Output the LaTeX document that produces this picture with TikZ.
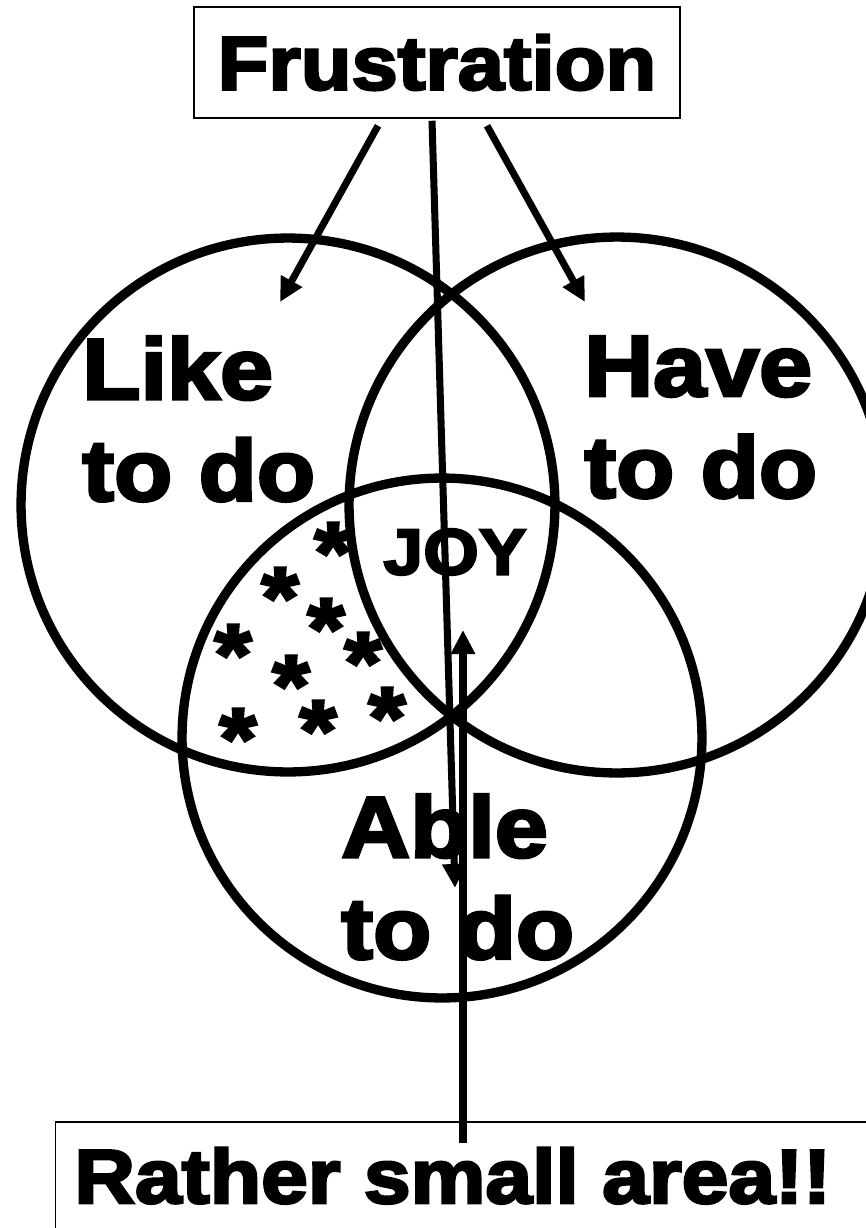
\documentclass[tikz,border=0pt]{standalone}
\usepackage{fontspec}
\usetikzlibrary{arrows.meta}
\newfontfamily\blackfont[FakeStretch=1.1,FakeBold=3.5]{Liberation Sans Bold}

\begin{document}
\begin{tikzpicture}[x=0.02cm, y=-0.02cm,
    ring/.style={line width=5.3pt},
    arr/.style={line width=4pt, -{Triangle[length=0.48cm, width=0.46cm]}},
    box/.style={draw, line width=0.85pt, inner sep=0pt},
    big/.style={font=\blackfont\fontsize{49.3}{57.8}\selectfont, align=left, inner sep=0pt, anchor=north west},
    star/.style={font=\blackfont\fontsize{49.3}{57.8}\selectfont, inner sep=0pt, anchor=base, yshift=-27pt}]
    % page
    \useasboundingbox (0,0) rectangle (866,1228);
    \fill[white] (0,0) rectangle (866,1228);
    \clip (0,0) rectangle (866,1228);

    % circles
    \draw[ring] (288,505) circle[radius=5.34cm];
    \draw[ring] (617,505) circle[radius=5.36cm];
    \draw[ring] (442,738) circle[radius=5.2cm];

    % labels
    \node[big] (like) at (82,336) {Like\\to do};
    \node[big] (have) at (584,336) {Have\\to do};
    \node[big] (able) at (341,794) {Able\\to do};
    \node[font=\blackfont\fontsize{37}{40}\selectfont, inner sep=0pt] (joy) at (455,552) {JOY};

    % stars
    \foreach \x/\y [count=\i] in {333/535, 280/580, 326/611, 233/637, 363/645,
                                  291/668, 387/700, 238/721, 318/713}
        \node[star] (s\i) at (\x,\y) {*};

    % boxes
    \node[box, minimum width=9.72cm, minimum height=2.22cm,
          font=\blackfont\fontsize{43}{46}\selectfont] (frust) at (437,62.5) {Frustration};
    \node[box, anchor=north west, minimum width=17cm, minimum height=3cm] (areabox) at (55,1121) {};
    \node[font=\blackfont\fontsize{43.5}{46}\selectfont, inner sep=0pt, anchor=base west] (area) at (74,1203) {Rather small area!!};

    % arrows
    \coordinate (likept) at (280,302);
    \coordinate (havept) at (585,302);
    \coordinate (ablept) at (455,888);
    \coordinate (joypt) at (463,630);
    \draw[arr] ([xshift=-1.18cm, yshift=-0.14cm]frust.south) -- (likept);
    \draw[arr] ([xshift=1cm, yshift=-0.14cm]frust.south) -- (havept);
    \draw[arr] ([xshift=-0.1cm, yshift=-0.04cm]frust.south) -- (ablept);
    \draw[arr] (areabox.north -| joypt) ++(0,22) -- (joypt);
\end{tikzpicture}
\end{document}
